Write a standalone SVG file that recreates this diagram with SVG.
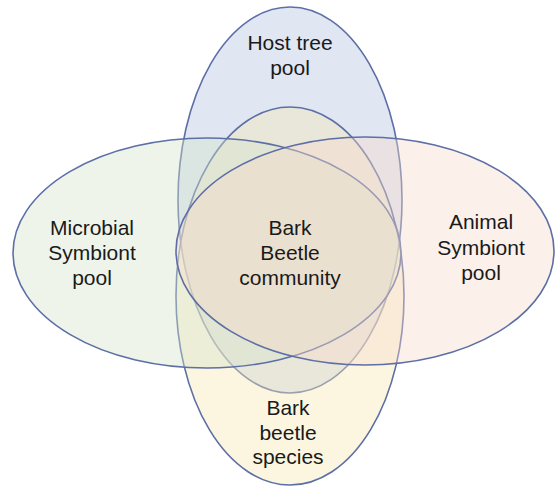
<svg xmlns="http://www.w3.org/2000/svg" width="556" height="489" viewBox="0 0 556 489">
<style>
.e{stroke:#5c6fa6;stroke-width:1.6;fill-opacity:0.4}
text{font-family:"Liberation Sans",Arial,sans-serif;font-size:21px;fill:#1a1a1a;text-anchor:middle}
</style>
<rect width="556" height="489" fill="#ffffff"/>
<g id="host-tree-pool">
<ellipse class="e" cx="290" cy="200" rx="112" ry="193" fill="#b2c0de"/>
</g>
<g id="bark-beetle-species">
<ellipse class="e" cx="290" cy="296" rx="114" ry="189" fill="#f8e8b4"/>
</g>
<g id="microbial-symbiont-pool">
<ellipse class="e" cx="207" cy="253" rx="194" ry="115" fill="#d5e4cb"/>
</g>
<g id="animal-symbiont-pool">
<ellipse class="e" cx="365" cy="251" rx="189" ry="114" fill="#f8d9ca"/>
</g>
<g id="labels">
<text x="290" y="50">Host tree</text>
<text x="290" y="75">pool</text>
<text x="92" y="235">Microbial</text>
<text x="92" y="260">Symbiont</text>
<text x="92" y="285">pool</text>
<text x="290" y="235">Bark</text>
<text x="290" y="260">Beetle</text>
<text x="290" y="285">community</text>
<text x="481" y="229">Animal</text>
<text x="481" y="255">Symbiont</text>
<text x="481" y="280">pool</text>
<text x="288" y="415">Bark</text>
<text x="288" y="440">beetle</text>
<text x="288" y="464">species</text>
</g>
<g id="connectors"/>
</svg>
